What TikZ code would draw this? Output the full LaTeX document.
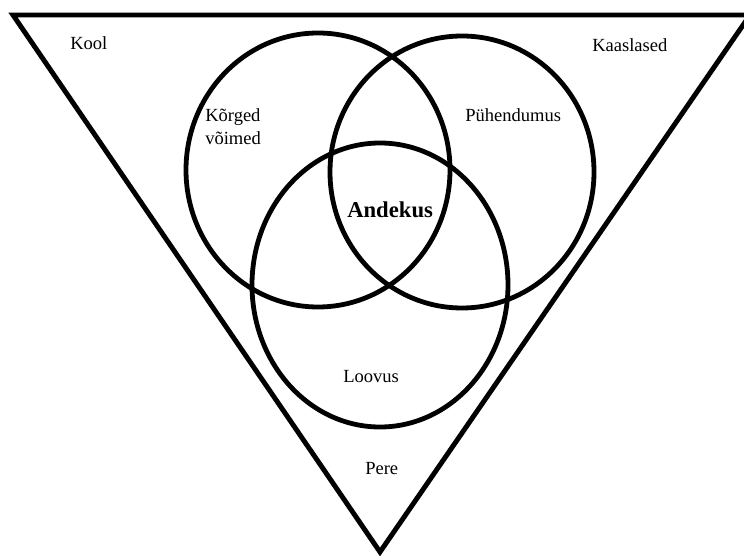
\documentclass[tikz,border=0pt]{standalone}
\usepackage{fontspec}
\setmainfont{Liberation Serif}
\begin{document}
\begin{tikzpicture}[x=0.75pt,y=-0.75pt,
  shape line/.style={line width=3.7pt, line join=miter},
  ring/.style={line width=3.6pt},
  lbl/.style={inner sep=0pt, anchor=base west, font=\fontsize{13.9pt}{17pt}\selectfont},
  core/.style={inner sep=0pt, anchor=base west, font=\fontsize{17pt}{20pt}\selectfont\bfseries}]
\useasboundingbox (0,0) rectangle (744,556);
\fill[white] (0,0) rectangle (744,556);
% triangle
\draw[shape line] (13,15) -- (750,15) -- (380,552) -- cycle;
% circles
\draw[ring] (318,170) ellipse [x radius=99pt, y radius=102.75pt];
\draw[ring] (462,172) ellipse [x radius=99pt, y radius=102pt];
\draw[ring] (380,285) ellipse [x radius=96pt, y radius=106.5pt];
% labels
\node[lbl] (kool) at (70,50) {Kool};
\node[lbl] (kaaslased) at (592,52) {Kaaslased};
\node[lbl] (korged) at (205,122) {Kõrged};
\node[lbl] (voimed) at (205,145) {võimed};
\node[lbl] (puhendumus) at (465,122) {Pühendumus};
\node[core] (andekus) at (347,218) {Andekus};
\node[lbl] (loovus) at (343,383) {Loovus};
\node[lbl] (pere) at (365,475) {Pere};
\end{tikzpicture}
\end{document}
